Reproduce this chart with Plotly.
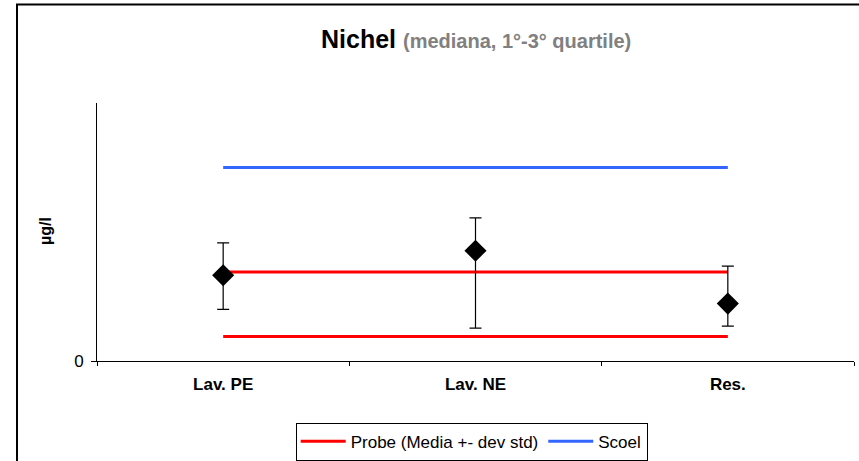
import plotly.graph_objects as go

categories = ["Lav. PE", "Lav. NE", "Res."]
median = [1.33, 1.71, 0.89]
q1 = [0.80, 0.51, 0.54]
q3 = [1.83, 2.22, 1.47]
probe_upper = 1.38
probe_lower = 0.38
scoel = 3.0
y_max = 4.0

FONT = "Liberation Sans, Arial, sans-serif"

L, R, T, B = 97, 5, 103, 100
W, H = 859, 461
pw = W - L - R
ph = H - T - B

def px(xp):
    return (xp - L) / pw

def py(yp):
    return (H - B - yp) / ph

fig = go.Figure()

line_x = [categories[0], categories[-1]]
fig.add_trace(go.Scatter(x=line_x, y=[probe_upper, probe_upper], mode="lines",
                         line=dict(color="#FF0000", width=3),
                         name="Probe (Media +- dev std)", legendgroup="probe"))
fig.add_trace(go.Scatter(x=line_x, y=[probe_lower, probe_lower], mode="lines",
                         line=dict(color="#FF0000", width=3),
                         name="Probe (Media +- dev std)", legendgroup="probe",
                         showlegend=False))
fig.add_trace(go.Scatter(x=line_x, y=[scoel, scoel], mode="lines",
                         line=dict(color="#3366FF", width=3), name="Scoel"))

fig.add_trace(go.Scatter(
    x=categories, y=median, mode="markers",
    marker=dict(symbol="diamond", size=17, color="black"),
    error_y=dict(type="data", symmetric=False,
                 array=[a - m for a, m in zip(q3, median)],
                 arrayminus=[m - b for m, b in zip(median, q1)],
                 color="black", thickness=1.2, width=6),
    showlegend=False))

fig.update_layout(
    width=W, height=H,
    margin=dict(l=L, r=R, t=T, b=B, autoexpand=False),
    paper_bgcolor="white", plot_bgcolor="white",
    font=dict(family=FONT, size=17, color="black"),
    xaxis=dict(type="category", categoryorder="array", categoryarray=categories,
               range=[-0.5, 2.5], showline=True, linecolor="black", linewidth=1,
               ticks="outside", tickson="boundaries", ticklen=4, tickcolor="black",
               tickfont=dict(family=FONT, size=17, weight="bold"),
               showgrid=False, zeroline=False, ticklabelstandoff=8),
    yaxis=dict(range=[0, y_max], tickvals=[0], ticktext=["0"],
               showline=True, linecolor="black", linewidth=1,
               ticks="outside", ticklen=5, tickcolor="black",
               tickfont=dict(family=FONT, size=17),
               showgrid=False, zeroline=False, ticklabelstandoff=4),
    legend=dict(orientation="h", x=px(471.7), xanchor="center",
                y=py(422.7), yanchor="top",
                bordercolor="black", borderwidth=1,
                font=dict(family=FONT, size=17), itemwidth=45),
    showlegend=True,
)

fig.add_annotation(
    text="<b>Nichel</b> <b><span style='font-size:20px;color:#808080'>(mediana, 1°-3° quartile)</span></b>",
    xref="paper", yref="paper", x=px(475.5), y=py(39), xanchor="center", yanchor="middle",
    showarrow=False, font=dict(family=FONT, size=25, color="black"))

fig.add_annotation(
    text="<b>µg/l</b>", textangle=-90,
    xref="paper", yref="paper", x=px(45), y=py(231), xanchor="center", yanchor="middle",
    showarrow=False, font=dict(family=FONT, size=16, color="black"))

fig.add_shape(type="rect", xref="paper", yref="paper",
              x0=px(17), x1=px(880), y0=py(4.5), y1=py(480),
              line=dict(color="black", width=2), fillcolor="rgba(0,0,0,0)", layer="below")

fig.write_html("out.html", config={"displayModeBar": False},
               post_script="document.body.style.margin='0';document.body.style.overflow='hidden';")
